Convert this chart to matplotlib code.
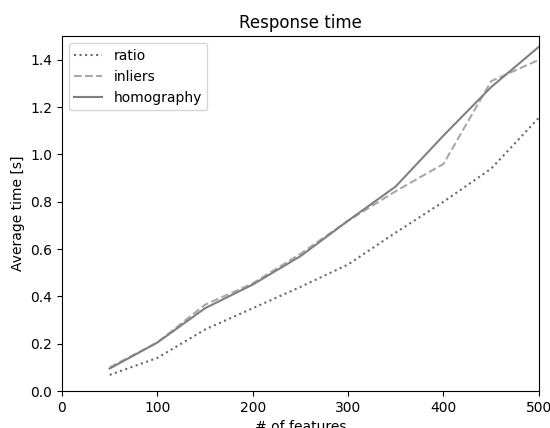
import matplotlib
matplotlib.use("Agg")
import matplotlib.pyplot as plt

features = [50, 100, 150, 200, 250, 300, 350, 400, 450, 500]
ratio = [0.068, 0.14, 0.26, 0.35, 0.44, 0.535, 0.67, 0.80, 0.94, 1.155]
inliers = [0.10, 0.205, 0.365, 0.455, 0.58, 0.72, 0.845, 0.96, 1.31, 1.40]
homography = [0.095, 0.205, 0.35, 0.45, 0.57, 0.72, 0.865, 1.08, 1.285, 1.455]

fig = plt.figure(figsize=(5.5, 4.28), dpi=100)
ax = fig.add_axes([0.1127, 0.0864, 0.867, 0.829])

ax.plot(features, ratio, linestyle=':', color='dimgray', label='ratio')
ax.plot(features, inliers, linestyle='--', color='darkgray', label='inliers')
ax.plot(features, homography, linestyle='-', color='gray', label='homography')

ax.set_xlim(0, 500)
ax.set_ylim(0, 1.5)
ax.set_title('Response time')
ax.set_xlabel('# of features')
ax.set_ylabel('Average time [s]')
ax.legend(loc='upper left')

fig.savefig('out.png', dpi=100)
